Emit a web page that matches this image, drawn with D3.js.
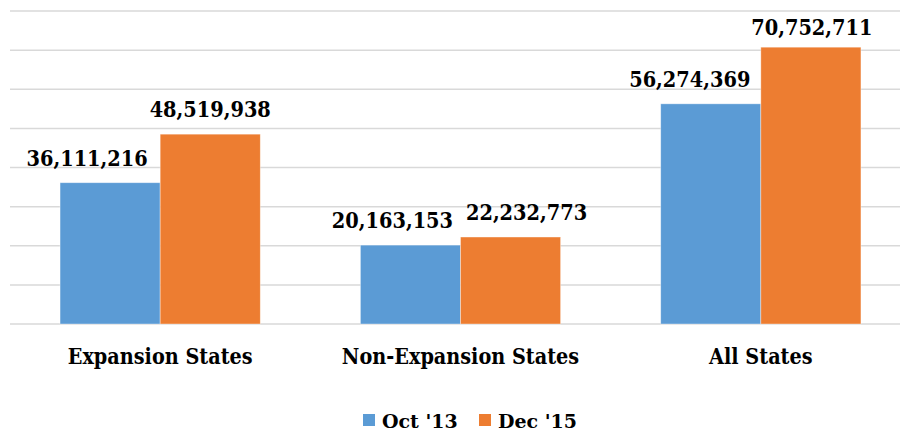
<!DOCTYPE html>
<html>
<head>
<meta charset="utf-8">
<script src="https://cdn.jsdelivr.net/npm/d3@7"></script>
<style>
  body { margin: 0; background: #fff; }
  text { font-family: "DejaVu Serif", "Liberation Serif", serif; font-weight: bold; fill: #000; }
</style>
</head>
<body>
<div id="chart"></div>
<script>
// 数据
var categories = ['Expansion States', 'Non-Expansion States', 'All States']
var seriesNames = ["Oct '13", "Dec '15"]
var oct13 = [36111216, 20163153, 56274369]
var dec15 = [48519938, 22232773, 70752711]
var colors = ['#5b9bd5', '#ed7d31']

// label nudges (the original labels were dragged by hand)
var labelShift = [[-23, 0], [0, 0], [-18, 0], [16, 0], [-21, 0], [1, 5]]

var width = 900
var height = 433
var plotTop = 11
var plotBottom = 324
var plotLeft = 10
var plotRight = 911

var series = [oct13, dec15]

/**
 * 比例尺
 */
var x0 = d3.scaleBand()
  .domain(categories)
  .range([plotLeft, plotRight])

var x1 = d3.scaleBand()
  .domain(d3.range(seriesNames.length))
  .range([x0.bandwidth() / 6, x0.bandwidth() * 5 / 6])

var y = d3.scaleLinear()
  .domain([0, 80000000])
  .range([plotBottom, plotTop])

var svg = d3.select('#chart')
  .append('svg')
  .attr('width', width)
  .attr('height', height)

// 网格线
svg.append('g')
  .selectAll('line')
  .data(y.ticks(8))
  .enter()
  .append('line')
  .attr('x1', plotLeft)
  .attr('x2', plotRight)
  .attr('y1', d => y(d))
  .attr('y2', d => y(d))
  .attr('stroke', '#d9d9d9')
  .attr('stroke-width', 1.5)

// 柱子
var bars = []
categories.forEach((c, i) => {
  series.forEach((s, j) => {
    bars.push({ cat: c, si: j, value: s[i] })
  })
})

svg.append('g')
  .selectAll('rect')
  .data(bars)
  .enter()
  .append('rect')
  .attr('x', d => x0(d.cat) + x1(d.si))
  .attr('y', d => y(d.value))
  .attr('width', x1.bandwidth())
  .attr('height', d => y(0) - y(d.value))
  .attr('fill', d => colors[d.si])
  .attr('stroke', '#fff')
  .attr('stroke-opacity', 0.5)
  .attr('stroke-width', 0.75)

// squeeze text a little, the original face is narrower than DejaVu
function squeeze(sel, k) {
  sel.each(function () {
    var w = this.getComputedTextLength()
    d3.select(this)
      .attr('textLength', w * k)
      .attr('lengthAdjust', 'spacingAndGlyphs')
  })
}

// 数值标签
svg.append('g')
  .selectAll('text')
  .data(bars)
  .enter()
  .append('text')
  .text(d => d3.format(',')(d.value))
  .attr('x', (d, i) => x0(d.cat) + x1(d.si) + x1.bandwidth() / 2 + labelShift[i][0])
  .attr('y', (d, i) => y(d.value) - 17 + labelShift[i][1])
  .attr('text-anchor', 'middle')
  .attr('font-size', '21.5px')
  .call(squeeze, 0.9)

// 分类标签
svg.append('g')
  .selectAll('text')
  .data(categories)
  .enter()
  .append('text')
  .text(d => d)
  .attr('x', d => x0(d) + x0.bandwidth() / 2)
  .attr('y', 364)
  .attr('text-anchor', 'middle')
  .attr('font-size', '22.5px')
  .call(squeeze, 0.855)

// 图例
var legendX = [363, 479]
var legend = svg.append('g')
  .selectAll('g')
  .data(seriesNames)
  .enter()
  .append('g')
  .attr('transform', (d, i) => `translate(${legendX[i]}, 414)`)

legend.append('rect')
  .attr('width', 12)
  .attr('height', 12)
  .attr('fill', (d, i) => colors[i])

legend.append('text')
  .text(d => d)
  .attr('x', 19)
  .attr('y', 13.5)
  .attr('font-size', '19px')
</script>
</body>
</html>
